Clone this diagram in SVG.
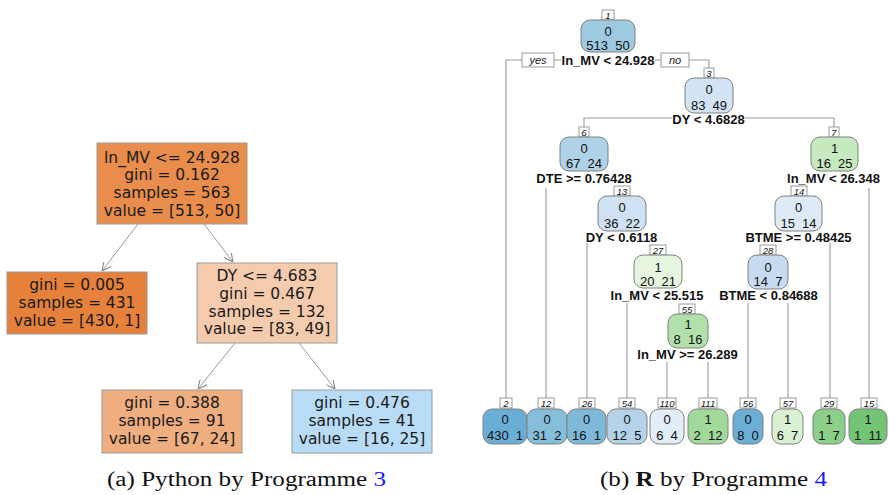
<svg xmlns="http://www.w3.org/2000/svg" width="889" height="495" viewBox="0 0 889 495">
  <defs>
    <marker id="arr" viewBox="0 0 10 10" refX="10" refY="5" markerWidth="9" markerHeight="9" orient="auto" markerUnits="userSpaceOnUse">
      <path d="M0,0 L10,5 L0,10" fill="none" stroke="#888" stroke-width="1.2"/>
    </marker>
  </defs>
  <style>
    .sk rect { stroke: #999; stroke-width: 1; }
    .sk text { font-family: "DejaVu Sans", sans-serif; font-size: 15.5px; fill: #1a1a1a; text-anchor: middle; }
    .skedge { stroke: #999; stroke-width: 1; fill: none; }
    .rp .box { stroke: #808080; stroke-width: 1; }
    .rp text { font-family: "Liberation Sans", Arial, sans-serif; font-size: 13px; fill: #111; text-anchor: middle; }
    .rp .num { fill: #fff; stroke: #808080; stroke-width: 0.8; }
    .rp text.n { font-size: 9.5px; font-style: italic; }
    .split { font-family: "Liberation Sans", Arial, sans-serif; font-size: 13px; font-weight: bold; fill: #111; text-anchor: middle; }
    .yn { font-family: "Liberation Sans", Arial, sans-serif; font-size: 11px; font-style: italic; fill: #222; text-anchor: middle; }
    .ynbox { fill: #fff; stroke: #808080; stroke-width: 0.8; }
    .br { stroke: #999; stroke-width: 1.1; fill: none; }
    .cap { font-family: "Liberation Serif", "Times New Roman", serif; font-size: 20px; fill: #111; }
  </style>

  <!-- (a) scikit-learn tree -->
  <g id="sk-edges">
    <line class="skedge" x1="138" y1="224" x2="102" y2="271" marker-end="url(#arr)"/>
    <line class="skedge" x1="204" y1="224" x2="233" y2="262" marker-end="url(#arr)"/>
    <line class="skedge" x1="235" y1="343" x2="198" y2="389" marker-end="url(#arr)"/>
    <line class="skedge" x1="299" y1="343" x2="335" y2="389" marker-end="url(#arr)"/>
  </g>
  <g id="sk-root" class="sk">
    <rect x="97" y="143" width="150" height="81" fill="#e88d4c"/>
    <text x="172" y="162.5">ln_MV &lt;= 24.928</text>
    <text x="172" y="180">gini = 0.162</text>
    <text x="172" y="198">samples = 563</text>
    <text x="172" y="215.5">value = [513, 50]</text>
  </g>
  <g id="sk-leaf-left" class="sk">
    <rect x="7" y="272" width="140" height="62" fill="#e5813a"/>
    <text x="77" y="289.5">gini = 0.005</text>
    <text x="77" y="307.5">samples = 431</text>
    <text x="77" y="325.5">value = [430, 1]</text>
  </g>
  <g id="sk-dy" class="sk">
    <rect x="197" y="263" width="140" height="80" fill="#f5cbad"/>
    <text x="267" y="281">DY &lt;= 4.683</text>
    <text x="267" y="298.8">gini = 0.467</text>
    <text x="267" y="316.5">samples = 132</text>
    <text x="267" y="334">value = [83, 49]</text>
  </g>
  <g id="sk-leaf-mid" class="sk">
    <rect x="102" y="390" width="140" height="63" fill="#eeae80"/>
    <text x="172" y="408.2">gini = 0.388</text>
    <text x="172" y="426.2">samples = 91</text>
    <text x="172" y="443.8">value = [67, 24]</text>
  </g>
  <g id="sk-leaf-right" class="sk">
    <rect x="292" y="390" width="140" height="63" fill="#b9dcf6"/>
    <text x="362" y="408.2">gini = 0.476</text>
    <text x="362" y="426.2">samples = 41</text>
    <text x="362" y="443.8">value = [16, 25]</text>
  </g>
  <text class="cap" x="107" y="486" textLength="279" lengthAdjust="spacingAndGlyphs">(a) Python by Programme <tspan fill="#1a1aff">3</tspan></text>

  <!-- (b) rpart tree: branch lines -->
  <g id="rp-branches">
    <path class="br" d="M506,398 V60 H522 M554,60 H561 M655,60 H661 M689,60 H709 V68"/>
    <path class="br" d="M584,127 V118 H672 M745,118 H834 V127"/>
    <path class="br" d="M546,188 V398"/>
    <path class="br" d="M869,188 V398"/>
    <path class="br" d="M587,243 V398"/>
    <path class="br" d="M830,243 V398"/>
    <path class="br" d="M627,303 V398"/>
    <path class="br" d="M748,303 V398"/>
    <path class="br" d="M788,303 V398"/>
    <path class="br" d="M667,362 V398"/>
    <path class="br" d="M708,362 V398"/>
  </g>

  <!-- split labels -->
  <g id="rp-splits">
    <rect class="ynbox" x="522" y="53" width="32" height="14"/>
    <text class="yn" x="538" y="64">yes</text>
    <rect class="ynbox" x="661" y="53" width="28" height="14"/>
    <text class="yn" x="675" y="64">no</text>
    <text class="split" x="608" y="64.7">ln_MV &lt; 24.928</text>
    <text class="split" x="708.5" y="123.7">DY &lt; 4.6828</text>
    <text class="split" x="584" y="182.7">DTE &gt;= 0.76428</text>
    <text class="split" x="833.5" y="182.7">ln_MV &lt; 26.348</text>
    <text class="split" x="621.5" y="241.7">DY &lt; 0.6118</text>
    <text class="split" x="798.5" y="241.7">BTME &gt;= 0.48425</text>
    <text class="split" x="657" y="299.7">ln_MV &lt; 25.515</text>
    <text class="split" x="768.5" y="299.7">BTME &lt; 0.84688</text>
    <text class="split" x="687.5" y="358.7">ln_MV &gt;= 26.289</text>
  </g>

  <!-- internal nodes -->
  <g id="rp-n1" class="rp">
    <rect class="num" x="602" y="10" width="12" height="10"/><text class="n" x="608" y="18.5">1</text>
    <rect class="box" x="581" y="20" width="54" height="32" rx="9" fill="#9ecae1"/>
    <text x="608" y="35.5">0</text><text x="608" y="50" xml:space="preserve">513  50</text>
  </g>
  <g id="rp-n3" class="rp">
    <rect class="num" x="704" y="68" width="10" height="10"/><text class="n" x="709" y="76.5">3</text>
    <rect class="box" x="685" y="78" width="48" height="35" rx="9" fill="#d2e3f3"/>
    <text x="709" y="93.5">0</text><text x="709" y="109.5" xml:space="preserve">83  49</text>
  </g>
  <g id="rp-n6" class="rp">
    <rect class="num" x="579" y="127" width="10" height="10"/><text class="n" x="584" y="135.5">6</text>
    <rect class="box" x="560" y="137" width="48" height="34" rx="9" fill="#b0d2e8"/>
    <text x="584" y="152.5">0</text><text x="584" y="168" xml:space="preserve">67  24</text>
  </g>
  <g id="rp-n7" class="rp">
    <rect class="num" x="829" y="127" width="10" height="10"/><text class="n" x="834" y="135.5">7</text>
    <rect class="box" x="811" y="137" width="47" height="34" rx="9" fill="#c7e9c0"/>
    <text x="834.5" y="152.5">1</text><text x="834.5" y="168" xml:space="preserve">16  25</text>
  </g>
  <g id="rp-n13" class="rp">
    <rect class="num" x="614" y="186" width="16" height="10"/><text class="n" x="622" y="194.5">13</text>
    <rect class="box" x="598" y="196" width="48" height="35" rx="9" fill="#cfe1f2"/>
    <text x="622" y="211.5">0</text><text x="622" y="227.5" xml:space="preserve">36  22</text>
  </g>
  <g id="rp-n14" class="rp">
    <rect class="num" x="791" y="186" width="16" height="10"/><text class="n" x="799" y="194.5">14</text>
    <rect class="box" x="775" y="196" width="47" height="35" rx="9" fill="#deebf7"/>
    <text x="798.5" y="211.5">0</text><text x="798.5" y="227.5" xml:space="preserve">15  14</text>
  </g>
  <g id="rp-n27" class="rp">
    <rect class="num" x="650" y="245" width="16" height="10"/><text class="n" x="658" y="253.5">27</text>
    <rect class="box" x="634" y="255" width="48" height="33" rx="9" fill="#e5f5e0"/>
    <text x="658" y="271.5">1</text><text x="658" y="286" xml:space="preserve">20  21</text>
  </g>
  <g id="rp-n28" class="rp">
    <rect class="num" x="760" y="245" width="16" height="10"/><text class="n" x="768" y="253.5">28</text>
    <rect class="box" x="748" y="255" width="40" height="34" rx="9" fill="#c6dbef"/>
    <text x="768" y="271.5">0</text><text x="768" y="286" xml:space="preserve">14  7</text>
  </g>
  <g id="rp-n55" class="rp">
    <rect class="num" x="679" y="304" width="16" height="10"/><text class="n" x="687" y="312.5">55</text>
    <rect class="box" x="668" y="314" width="40" height="34" rx="9" fill="#b2e0aa"/>
    <text x="688" y="328.5">1</text><text x="688" y="343.5" xml:space="preserve">8  16</text>
  </g>

  <!-- leaves -->
  <g id="rp-l2" class="rp">
    <rect class="num" x="500" y="398" width="12" height="10"/><text class="n" x="506" y="406.5">2</text>
    <rect class="box" x="483" y="409" width="44" height="35" rx="9" fill="#6aaed6"/>
    <text x="505" y="424">0</text><text x="505" y="440" xml:space="preserve">430  1</text>
  </g>
  <g id="rp-l12" class="rp">
    <rect class="num" x="538" y="398" width="16" height="10"/><text class="n" x="546" y="406.5">12</text>
    <rect class="box" x="527" y="409" width="40" height="35" rx="9" fill="#86bddb"/>
    <text x="547" y="424">0</text><text x="547" y="440" xml:space="preserve">31  2</text>
  </g>
  <g id="rp-l26" class="rp">
    <rect class="num" x="579" y="398" width="16" height="10"/><text class="n" x="587" y="406.5">26</text>
    <rect class="box" x="567" y="409" width="39" height="35" rx="9" fill="#7fb9da"/>
    <text x="586.5" y="424">0</text><text x="586.5" y="440" xml:space="preserve">16  1</text>
  </g>
  <g id="rp-l54" class="rp">
    <rect class="num" x="619" y="398" width="16" height="10"/><text class="n" x="627" y="406.5">54</text>
    <rect class="box" x="607" y="409" width="40" height="35" rx="9" fill="#b4d3e9"/>
    <text x="627" y="424">0</text><text x="627" y="440" xml:space="preserve">12  5</text>
  </g>
  <g id="rp-l110" class="rp">
    <rect class="num" x="658" y="398" width="18" height="10"/><text class="n" x="667" y="406.5">110</text>
    <rect class="box" x="650" y="409" width="34" height="35" rx="9" fill="#e2edf8"/>
    <text x="667" y="424">0</text><text x="667" y="440" xml:space="preserve">6  4</text>
  </g>
  <g id="rp-l111" class="rp">
    <rect class="num" x="699" y="398" width="18" height="10"/><text class="n" x="708" y="406.5">111</text>
    <rect class="box" x="688" y="409" width="40" height="35" rx="9" fill="#a1d99b"/>
    <text x="708" y="424">1</text><text x="708" y="440" xml:space="preserve">2  12</text>
  </g>
  <g id="rp-l56" class="rp">
    <rect class="num" x="740" y="398" width="16" height="10"/><text class="n" x="748" y="406.5">56</text>
    <rect class="box" x="733" y="409" width="30" height="35" rx="9" fill="#6baed6"/>
    <text x="748" y="424">0</text><text x="748" y="440" xml:space="preserve">8  0</text>
  </g>
  <g id="rp-l57" class="rp">
    <rect class="num" x="780" y="398" width="16" height="10"/><text class="n" x="788" y="406.5">57</text>
    <rect class="box" x="772" y="409" width="31" height="35" rx="9" fill="#d9f0d3"/>
    <text x="787.5" y="424">1</text><text x="787.5" y="440" xml:space="preserve">6  7</text>
  </g>
  <g id="rp-l29" class="rp">
    <rect class="num" x="821" y="398" width="16" height="10"/><text class="n" x="829" y="406.5">29</text>
    <rect class="box" x="813" y="409" width="32" height="35" rx="9" fill="#8bcf89"/>
    <text x="829" y="424">1</text><text x="829" y="440" xml:space="preserve">1  7</text>
  </g>
  <g id="rp-l15" class="rp">
    <rect class="num" x="861" y="398" width="16" height="10"/><text class="n" x="869" y="406.5">15</text>
    <rect class="box" x="849" y="409" width="38" height="35" rx="9" fill="#74c476"/>
    <text x="868" y="424">1</text><text x="868" y="440" xml:space="preserve">1  11</text>
  </g>

  <text class="cap" x="600" y="486" textLength="227" lengthAdjust="spacingAndGlyphs">(b) <tspan font-weight="bold">R</tspan> by Programme <tspan fill="#1a1aff">4</tspan></text>
</svg>
